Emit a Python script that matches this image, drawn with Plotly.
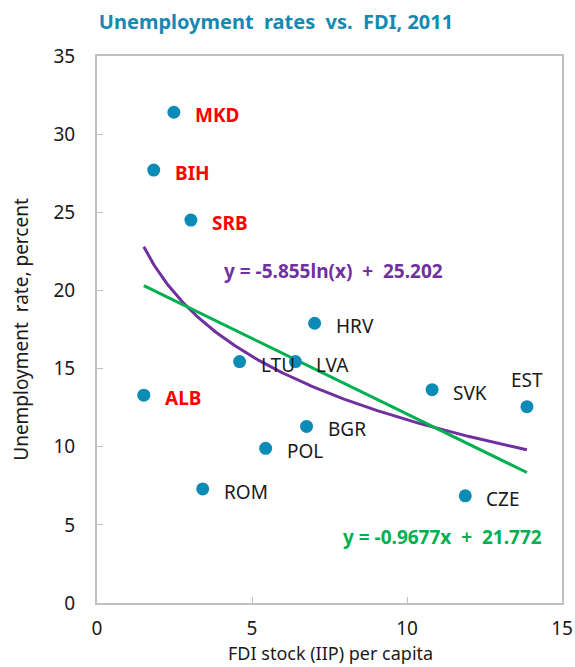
import numpy as np
import plotly.graph_objects as go

# FDI stock per capita vs. unemployment rate, 2011
countries = ["MKD", "BIH", "SRB", "ALB", "ROM", "POL", "LTU", "LVA",
             "HRV", "BGR", "SVK", "EST", "CZE"]
fdi = [2.48, 1.83, 3.03, 1.51, 3.41, 5.44, 4.60, 6.40, 7.02, 6.76, 10.81, 13.87, 11.88]
unemp = [31.4, 27.7, 24.5, 13.3, 7.3, 9.9, 15.45, 15.45, 17.9, 11.3, 13.65, 12.56, 6.86]
highlight = ["MKD", "BIH", "SRB", "ALB"]

# Trend line coefficients
lin_slope, lin_icpt = -0.9677, 21.772
log_coef, log_icpt = -5.855, 25.202

FONT = "Noto Sans"
BLUE = "#0b8bb5"
PURPLE = "#7030a0"
GREEN = "#00b050"
FS = 19

L, R, T, B = 97, 13, 56, 64
W, H = 575, 667

xs = np.linspace(min(fdi), max(fdi), 200)

fig = go.Figure()
fig.add_trace(go.Scatter(x=xs, y=log_coef * np.log(xs) + log_icpt, mode="lines",
                         line=dict(color=PURPLE, width=3), hoverinfo="skip"))
fig.add_trace(go.Scatter(x=xs, y=lin_slope * xs + lin_icpt, mode="lines",
                         line=dict(color=GREEN, width=3), hoverinfo="skip"))
fig.add_trace(go.Scatter(x=fdi, y=unemp, mode="markers", text=countries,
                         marker=dict(color=BLUE, size=13)))

annotations = []
for c, x, y in zip(countries, fdi, unemp):
    red = c in highlight
    style = dict(color="#ff0000" if red else "#1a1a1a", size=FS, family=FONT)
    label = f"<b>{c}</b>" if red else c
    if c == "EST":
        annotations.append(dict(x=x, y=y, text=label, showarrow=False, font=style,
                                xanchor="center", yanchor="middle", yshift=27))
    else:
        annotations.append(dict(x=x, y=y, text=label, showarrow=False, font=style,
                                xanchor="left", yanchor="middle", xshift=19, yshift=-3))


def paper_xy(px, py):
    """Pixel position on the page -> paper coordinates of the plot area."""
    return (px - L) / (W - L - R), 1 - (py - T) / (H - T - B)


ex, ey = paper_xy(333, 271)
annotations.append(dict(x=ex, y=ey, xref="paper", yref="paper", showarrow=False,
                        xanchor="center", yanchor="middle",
                        text=f"<b>y = {log_coef}ln(x)  +  {log_icpt}</b>",
                        font=dict(color=PURPLE, size=FS, family=FONT)))
ex, ey = paper_xy(442, 537)
annotations.append(dict(x=ex, y=ey, xref="paper", yref="paper", showarrow=False,
                        xanchor="center", yanchor="middle",
                        text=f"<b>y = {lin_slope}x  +  {lin_icpt}</b>",
                        font=dict(color=GREEN, size=FS, family=FONT)))

# x-axis title, placed just below the tick labels
ex, ey = paper_xy(330, 653)
annotations.append(dict(x=ex, y=ey, xref="paper", yref="paper", showarrow=False,
                        xanchor="center", yanchor="middle",
                        text="FDI stock (IIP) per capita",
                        font=dict(color="#1a1a1a", size=18, family=FONT)))

fig.update_layout(
    width=W, height=H,
    margin=dict(l=L, r=R, t=T, b=B),
    paper_bgcolor="white", plot_bgcolor="white",
    showlegend=False,
    font=dict(family=FONT, color="#1a1a1a", size=FS),
    title=dict(text="<b>Unemployment  rates  vs.  FDI, 2011</b>",
               x=0.48, xanchor="center", y=1 - 22 / H, yanchor="middle",
               font=dict(color="#1589b0", size=20, family=FONT)),
    annotations=annotations,
)
fig.update_xaxes(range=[0, 15], dtick=5, showgrid=False, zeroline=False,
                 automargin=False,
                 showline=True, linecolor="#c0c0c0", linewidth=2, mirror=True,
                 ticks="inside", ticklen=6, tickcolor="#c0c0c0",
                 ticklabelstandoff=7, tickfont=dict(size=FS))
fig.update_yaxes(range=[0, 35], dtick=5, showgrid=False, zeroline=False,
                 automargin=False,
                 showline=True, linecolor="#c0c0c0", linewidth=2, mirror=True,
                 ticks="inside", ticklen=6, tickcolor="#c0c0c0",
                 ticklabelstandoff=16, tickfont=dict(size=FS),
                 title=dict(text="Unemployment  rate, percent", standoff=20,
                            font=dict(size=FS)))

fig.write_html("out.html")
